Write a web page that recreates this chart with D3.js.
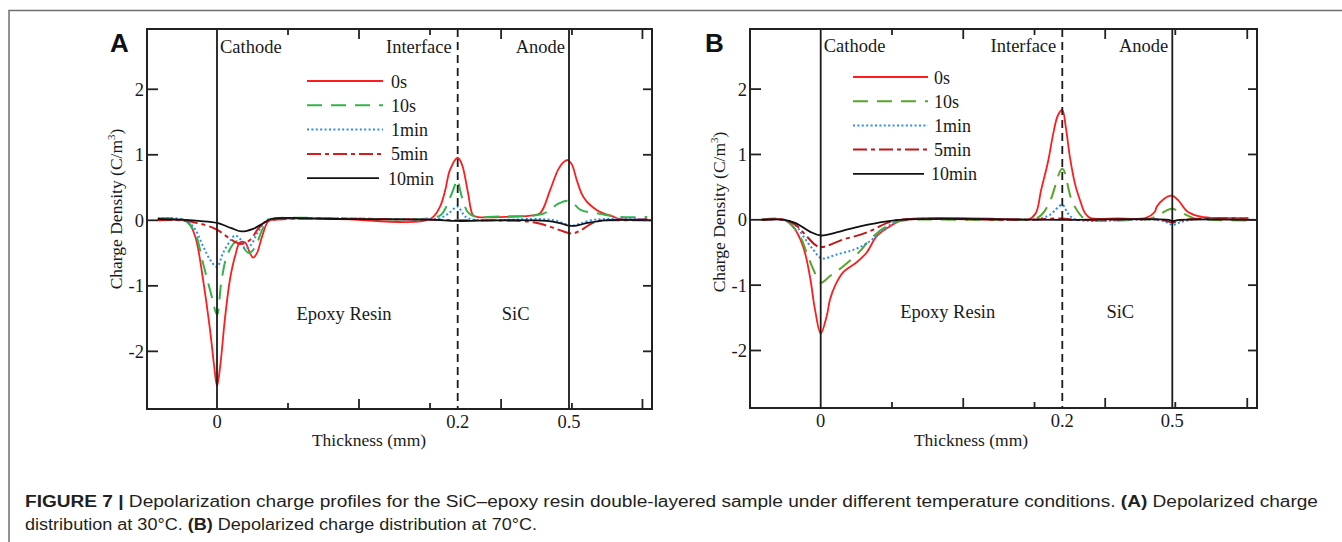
<!DOCTYPE html>
<html>
<head>
<meta charset="utf-8">
<script src="https://cdnjs.cloudflare.com/ajax/libs/d3/7.8.5/d3.min.js"></script>
<style>
  body { margin: 0; background: #fff; }
  svg { display: block; }
</style>
</head>
<body>
<svg id="fig" width="1342" height="542"></svg>
<script>
// series names (legend order)
var seriesNames = ["0s", "10s", "1min", "5min", "10min"];

// x axis: thickness in mm, cathode / interface / anode
var xBreaks = [-0.058, 0, 0.2, 0.5, 0.726];
var xLabelVals = [0, 0.2, 0.5];
var xLabelText = ["0", "0.2", "0.5"];
var xMinorTicks = [0.059, 0.118, 0.177, 0.317, 0.508, 0.70];
var yDomain = [-2.88, 2.92];
var yTickVals = [-2, -1, 0, 1, 2];

// (A) 30 C  -- [thickness mm, charge density C/m3]
var a0s = [[-0.049,0.02],[-0.035,0.01],[-0.024,-0.03],[-0.018,-0.25],[-0.0116,-0.9],[-0.0058,-1.67],
  [-0.0025,-2.2],[0,-2.53],[0.0025,-2.25],[0.0066,-1.5],[0.0108,-0.9],[0.015,-0.55],[0.019,-0.34],
  [0.0233,-0.34],[0.0274,-0.5],[0.030,-0.57],[0.0332,-0.5],[0.0374,-0.25],[0.0424,-0.02],[0.048,0.02],
  [0.1,0.02],[0.177,0.02],[0.1853,0.21],[0.1895,0.45],[0.1936,0.77],[0.2,0.955],[0.2116,0.85],
  [0.2278,0.42],[0.2412,0.08],[0.2547,0.05],[0.314,0.05],[0.395,0.07],[0.4223,0.11],[0.449,0.46],
  [0.4704,0.77],[0.484,0.88],[0.4965,0.92],[0.508,0.85],[0.5208,0.62],[0.535,0.4],[0.5478,0.29],
  [0.565,0.2],[0.5837,0.13],[0.6188,0.06],[0.6377,0.02],[0.713,0.02]];
var a10s = [[-0.049,0.03],[-0.03,0.02],[-0.025,-0.02],[-0.018,-0.2],[-0.0116,-0.65],[-0.0044,-1.16],
  [0,-1.44],[0.0039,-0.9],[0.0091,-0.5],[0.0166,-0.32],[0.0266,-0.5],[0.032,-0.4],[0.0374,-0.15],
  [0.0424,0.0],[0.048,0.03],[0.177,0.03],[0.186,0.08],[0.1906,0.21],[0.1953,0.42],[0.2,0.62],
  [0.205,0.5],[0.214,0.3],[0.228,0.12],[0.245,0.06],[0.32,0.06],[0.40,0.07],[0.43,0.1],[0.449,0.16],
  [0.47,0.25],[0.4965,0.3],[0.51,0.27],[0.5316,0.16],[0.5837,0.1],[0.6377,0.05],[0.713,0.05]];
var a1min = [[-0.049,0.03],[-0.03,0.02],[-0.02,-0.09],[-0.0114,-0.4],[-0.0058,-0.6],[0,-0.71],
  [0.005,-0.5],[0.0114,-0.3],[0.015,-0.23],[0.0199,-0.3],[0.0233,-0.43],[0.028,-0.38],[0.034,-0.18],
  [0.041,0.0],[0.048,0.02],[0.177,0.02],[0.185,0.03],[0.192,0.1],[0.2,0.21],[0.212,0.12],[0.228,0.03],
  [0.42,0.02],[0.46,0.0],[0.487,-0.05],[0.4965,-0.07],[0.51,-0.08],[0.53,-0.05],[0.56,0.0],
  [0.6,0.02],[0.713,0.02]];
var a5min = [[-0.049,0.0],[-0.03,0.0],[-0.0166,-0.04],[-0.0003,-0.14],[0.0122,-0.3],[0.02,-0.36],
  [0.0274,-0.3],[0.0346,-0.12],[0.041,-0.02],[0.048,0.01],[0.177,0.01],[0.2,0.0],[0.3,0.0],
  [0.39,-0.02],[0.42,-0.05],[0.45,-0.1],[0.48,-0.16],[0.508,-0.2],[0.53,-0.16],[0.555,-0.07],
  [0.58,-0.01],[0.62,0.0],[0.713,0.0]];
var a10min = [[-0.049,0.02],[-0.03,0.01],[-0.015,-0.01],[0,-0.04],[0.012,-0.12],[0.0205,-0.17],
  [0.03,-0.13],[0.038,-0.05],[0.045,0.02],[0.1,0.02],[0.177,0.01],[0.2,-0.01],[0.3,0.0],
  [0.44,-0.01],[0.48,-0.05],[0.5,-0.08],[0.52,-0.08],[0.55,-0.04],[0.6,0.0],[0.726,0.0]];

// (B) 70 C
var b0s = [[-0.0487,0],[-0.0296,0],[-0.0227,-0.1],[-0.0144,-0.41],[-0.0089,-0.86],[-0.0047,-1.37],
  [0,-1.74],[0.005,-1.47],[0.0077,-1.22],[0.0118,-1.01],[0.0187,-0.8],[0.0298,-0.65],[0.0381,-0.5],
  [0.0464,-0.25],[0.0574,-0.1],[0.0684,0],[0.17,0],[0.1715,0],[0.178,0.1],[0.1824,0.45],
  [0.1883,0.9],[0.1923,1.3],[0.1964,1.6],[0.2,1.68],[0.21,1.4],[0.221,0.95],[0.2346,0.55],
  [0.2483,0.3],[0.262,0.1],[0.2756,0.03],[0.35,0.02],[0.428,0.03],[0.452,0.12],[0.4575,0.2],
  [0.477,0.32],[0.4984,0.37],[0.5156,0.3],[0.5393,0.13],[0.5667,0.06],[0.603,0.03],[0.703,0.03]];
var b10s = [[-0.0487,0],[-0.03,0],[-0.0171,-0.25],[-0.0116,-0.5],[-0.006,-0.76],[0,-0.96],
  [0.0077,-0.86],[0.0187,-0.71],[0.0325,-0.48],[0.0408,-0.3],[0.0546,-0.1],[0.0657,-0.02],
  [0.075,0],[0.17,0],[0.1785,0.02],[0.184,0.1],[0.1904,0.31],[0.2,0.78],[0.2256,0.3],[0.2483,0.08],
  [0.265,0.01],[0.4,0.0],[0.4416,0.02],[0.47,0.1],[0.4984,0.17],[0.52,0.12],[0.56,0.02],
  [0.6,0.0],[0.703,-0.01]];
var b1min = [[-0.0487,0],[-0.03,0],[-0.0199,-0.1],[-0.0144,-0.25],[-0.006,-0.46],[0.0008,-0.59],
  [0.0132,-0.53],[0.0269,-0.46],[0.0381,-0.36],[0.0491,-0.2],[0.0598,-0.05],[0.0684,0],[0.17,0],
  [0.18,0.01],[0.19,0.08],[0.2,0.23],[0.215,0.1],[0.235,0.01],[0.4,0],[0.46,0],[0.485,-0.04],
  [0.5,-0.08],[0.52,-0.04],[0.55,0],[0.6,0.01],[0.703,0.01]];
var b5min = [[-0.0487,0],[-0.03,0],[-0.0205,-0.08],[-0.0116,-0.25],[-0.0047,-0.38],[0,-0.42],
  [0.0187,-0.3],[0.0325,-0.23],[0.0436,-0.15],[0.0546,-0.05],[0.0657,0],[0.17,0],[0.2,0.02],
  [0.23,0],[0.47,0],[0.5,-0.04],[0.53,0],[0.6,0.02],[0.68,0.02],[0.703,0]];
var b10min = [[-0.0487,0],[-0.03,0],[-0.0205,-0.05],[-0.0089,-0.18],[0,-0.24],[0.0158,-0.18],
  [0.0325,-0.1],[0.0463,-0.05],[0.065,0],[0.2,0],[0.49,0],[0.5,-0.02],[0.52,0],[0.726,0]];

var regionNames = ["Cathode", "Interface", "Anode", "Epoxy Resin", "SiC"];

var serif = "'Liberation Serif', 'Times New Roman', serif";
var sans = "'Liberation Sans', Arial, sans-serif";
var ink = "#1a1a1a";

var svg = d3.select("#fig");

// outer figure frame (top + left rule)
svg.append("path")
  .attr("d", "M9,542V10.5H1342")
  .attr("fill", "none")
  .attr("stroke", "#707070")
  .attr("stroke-width", 1.5);

function drawPanel(cfg) {
  var x = d3.scaleLinear().domain(xBreaks).range(cfg.xr);
  var y = d3.scaleLinear().domain(yDomain).range([cfg.bottom, cfg.top]);
  var g = svg.append("g");
  var left = cfg.xr[0], right = cfg.xr[cfg.xr.length - 1];

  // curves
  var line = d3.line()
    .x(function(d) { return x(d[0]); })
    .y(function(d) { return y(d[1]); })
    .curve(d3.curveCatmullRom.alpha(0.5));

  cfg.series.forEach(function(s, i) {
    var st = cfg.styles[i];
    g.append("path")
      .datum(s)
      .attr("d", line)
      .attr("fill", "none")
      .attr("stroke", st.color)
      .attr("stroke-width", st.width)
      .attr("stroke-dasharray", st.dash);
  });

  // cathode / interface / anode lines
  g.selectAll(".marker")
    .data(xLabelVals)
    .enter().append("line")
    .attr("x1", function(d) { return x(d); })
    .attr("x2", function(d) { return x(d); })
    .attr("y1", cfg.top)
    .attr("y2", cfg.bottom)
    .attr("stroke", ink)
    .attr("stroke-width", 1.8)
    .attr("stroke-dasharray", function(d, i) { return i === 1 ? "8,5" : null; });

  // frame
  g.append("rect")
    .attr("x", left).attr("y", cfg.top)
    .attr("width", right - left).attr("height", cfg.bottom - cfg.top)
    .attr("fill", "none").attr("stroke", "#222").attr("stroke-width", 2);

  // minor x ticks, top and bottom, alternating lengths
  xMinorTicks.forEach(function(v, i) {
    var len = i % 2 ? 10 : 6;
    g.append("line").attr("x1", x(v)).attr("x2", x(v))
      .attr("y1", cfg.bottom).attr("y2", cfg.bottom - len)
      .attr("stroke", "#222").attr("stroke-width", 1.8);
    g.append("line").attr("x1", x(v)).attr("x2", x(v))
      .attr("y1", cfg.top).attr("y2", cfg.top + len)
      .attr("stroke", "#222").attr("stroke-width", 1.8);
  });

  // y ticks (plain hyphen for negatives, as in the source figure)
  var yAxisL = d3.axisLeft(y).tickValues(yTickVals).tickSize(0).tickPadding(3)
    .tickFormat(function(d) { return String(d); });
  var ga = g.append("g").attr("transform", "translate(" + left + ",0)").call(yAxisL);
  ga.select(".domain").remove();
  ga.selectAll("text").attr("font-family", serif).attr("font-size", 18.5).attr("fill", ink);
  yTickVals.forEach(function(v) {
    g.append("line").attr("x1", left).attr("x2", left + 11)
      .attr("y1", y(v)).attr("y2", y(v)).attr("stroke", "#222").attr("stroke-width", 1.8);
    g.append("line").attr("x1", right).attr("x2", right - 9)
      .attr("y1", y(v)).attr("y2", y(v)).attr("stroke", "#222").attr("stroke-width", 1.8);
  });

  // x labels at cathode / interface / anode
  g.selectAll(".xl")
    .data(xLabelVals)
    .enter().append("text")
    .attr("x", function(d) { return x(d); })
    .attr("y", cfg.bottom + 19)
    .attr("text-anchor", "middle")
    .attr("font-family", serif).attr("font-size", 18.5).attr("fill", ink)
    .text(function(d, i) { return xLabelText[i]; });

  // axis titles
  g.append("text")
    .attr("x", cfg.xTitle[0]).attr("y", cfg.xTitle[1])
    .attr("text-anchor", "middle")
    .attr("font-family", serif).attr("font-size", 17.5).attr("fill", ink)
    .text("Thickness (mm)");

  var yt = g.append("text")
    .attr("transform", "translate(" + cfg.yTitle[0] + "," + cfg.yTitle[1] + ") rotate(-90)")
    .attr("text-anchor", "middle")
    .attr("font-family", serif).attr("font-size", 17.5).attr("fill", ink);
  yt.append("tspan").text("Charge Density (C/m");
  yt.append("tspan").attr("dy", -7).attr("font-size", 11).text("3");
  yt.append("tspan").attr("dy", 7).text(")");

  // region names
  var regionPos = [
    [x(0) + 3, cfg.topLabelY, "start"],
    [x(0.2) - 6, cfg.topLabelY, "end"],
    [x(0.5) - 4, cfg.topLabelY, "end"],
    [x(0) + 127, cfg.midLabelY, "middle"],
    [x(0.2) + 58, cfg.midLabelY, "middle"]
  ];
  regionNames.forEach(function(n, i) {
    g.append("text")
      .attr("x", regionPos[i][0]).attr("y", regionPos[i][1])
      .attr("text-anchor", regionPos[i][2])
      .attr("font-family", serif).attr("font-size", 18.5).attr("fill", ink)
      .text(n);
  });

  // legend
  seriesNames.forEach(function(n, i) {
    var st = cfg.styles[i];
    var ly = cfg.legend.y0 + i * cfg.legend.dy;
    g.append("line")
      .attr("x1", cfg.legend.x0).attr("x2", i === 4 ? cfg.legend.x1 - 4 : cfg.legend.x1)
      .attr("y1", ly).attr("y2", ly)
      .attr("stroke", st.color).attr("stroke-width", st.width)
      .attr("stroke-dasharray", st.dash);
    g.append("text")
      .attr("x", i === 4 ? cfg.legend.tx - 3 : cfg.legend.tx).attr("y", ly + 6.5)
      .attr("font-family", serif).attr("font-size", 18).attr("fill", ink)
      .text(n);
  });

  // panel letter
  g.append("text")
    .attr("x", cfg.letter[0]).attr("y", cfg.letter[1])
    .attr("font-family", sans).attr("font-weight", "bold").attr("font-size", 26)
    .attr("fill", "#111")
    .text(cfg.name);
}

var stylesA = [
  { color: "#ff1c1c", width: 1.8, dash: null },
  { color: "#32b44a", width: 2, dash: "15,9" },
  { color: "#2f8fe8", width: 2, dash: "2,2.4" },
  { color: "#d81c1c", width: 2, dash: "14,4,4,4" },
  { color: "#111111", width: 1.8, dash: null }
];
var stylesB = [
  { color: "#ff1c1c", width: 1.8, dash: null },
  { color: "#58a52c", width: 2, dash: "15,9" },
  { color: "#2f8fe8", width: 2, dash: "2,2.4" },
  { color: "#c01818", width: 2, dash: "14,4,4,4" },
  { color: "#111111", width: 1.8, dash: null }
];

drawPanel({
  name: "A", xr: [147, 217, 457.7, 569, 652], top: 29, bottom: 409,
  series: [a0s, a10s, a1min, a5min, a10min], styles: stylesA,
  xTitle: [369, 446], yTitle: [122, 209], topLabelY: 53, midLabelY: 320,
  legend: { x0: 307, x1: 383, tx: 391, y0: 81, dy: 24.3 },
  letter: [110, 52]
});
drawPanel({
  name: "B", xr: [750, 820.7, 1062.3, 1172.3, 1257], top: 29, bottom: 408,
  series: [b0s, b10s, b1min, b5min, b10min], styles: stylesB,
  xTitle: [971, 446], yTitle: [725, 212], topLabelY: 52, midLabelY: 318,
  legend: { x0: 853, x1: 928, tx: 934, y0: 77, dy: 24.2 },
  letter: [705, 52]
});

// caption
var cap1 = svg.append("text").attr("x", 25).attr("y", 507)
  .attr("font-family", sans).attr("font-size", 16).attr("fill", "#231f20")
  .attr("textLength", 1293).attr("lengthAdjust", "spacingAndGlyphs");
cap1.append("tspan").attr("font-weight", "bold").text("FIGURE 7 | ");
cap1.append("tspan").text("Depolarization charge profiles for the SiC\u2013epoxy resin double-layered sample under different temperature conditions. ");
cap1.append("tspan").attr("font-weight", "bold").text("(A)");
cap1.append("tspan").text(" Depolarized charge");

var cap2 = svg.append("text").attr("x", 25).attr("y", 530)
  .attr("font-family", sans).attr("font-size", 16).attr("fill", "#231f20")
  .attr("textLength", 512).attr("lengthAdjust", "spacingAndGlyphs");
cap2.append("tspan").text("distribution at 30\u00b0C. ");
cap2.append("tspan").attr("font-weight", "bold").text("(B)");
cap2.append("tspan").text(" Depolarized charge distribution at 70\u00b0C.");
</script>
</body>
</html>
